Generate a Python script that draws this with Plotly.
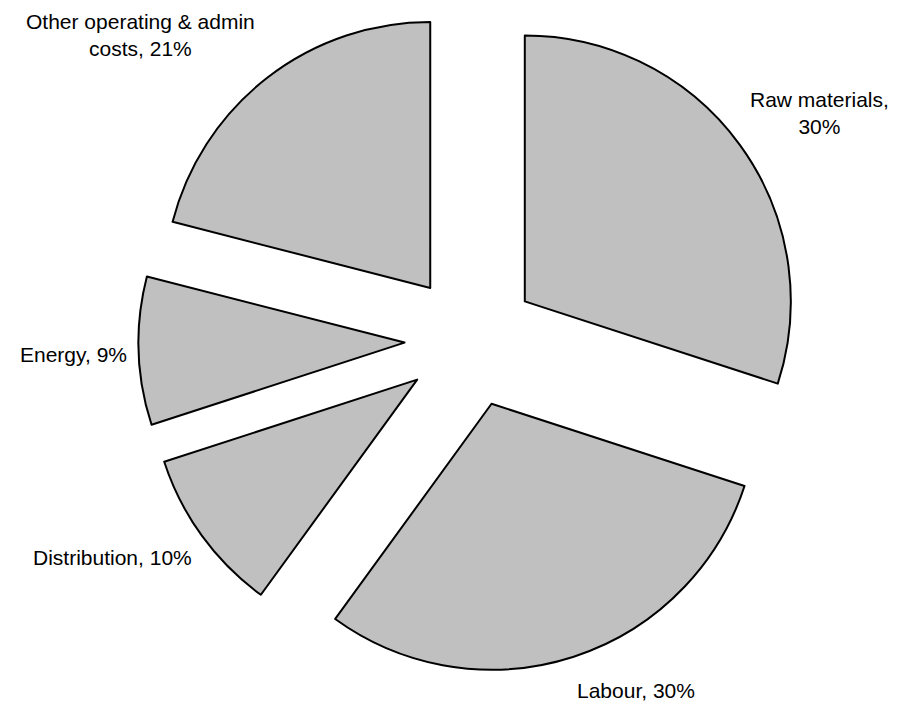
import plotly.graph_objects as go

# Cost breakdown (share of total, %)
categories = ["Raw materials", "Labour", "Distribution", "Energy",
              "Other operating & admin costs"]
shares = [30, 30, 10, 9, 21]
label_formats = [
    "Raw materials,<br>{}%",
    "Labour, {}%",
    "Distribution, {}%",
    "Energy, {}%",
    "Other operating & admin<br>costs, {}%",
]

# Figure geometry (pixels)
W, H = 909, 701
M = dict(l=60, r=27, t=8, b=28)
PW, PH = W - M["l"] - M["r"], H - M["t"] - M["b"]

# Label anchor points (pixel centres of each label block)
label_pos_px = [(819, 113), (636, 690), (112, 557), (73, 354), (140, 35)]


def to_paper(px, py):
    return (px - M["l"]) / PW, 1 - (py - M["t"]) / PH


fig = go.Figure(
    go.Pie(
        labels=categories,
        values=shares,
        sort=False,
        direction="clockwise",
        rotation=0,
        pull=[0.25] * len(shares),
        marker=dict(colors=["#C0C0C0"] * len(shares),
                    line=dict(color="#000000", width=2)),
        textinfo="none",
        showlegend=False,
        hoverinfo="label+percent",
    )
)

for fmt, val, (px, py) in zip(label_formats, shares, label_pos_px):
    x, y = to_paper(px, py)
    fig.add_annotation(
        x=x, y=y, xref="paper", yref="paper",
        text=fmt.format(val),
        showarrow=False,
        xanchor="center", yanchor="middle", align="center",
        font=dict(family="Arial, Liberation Sans, sans-serif", size=21,
                  color="#000000"),
    )

fig.update_layout(
    width=W,
    height=H,
    margin=M,
    paper_bgcolor="white",
    plot_bgcolor="white",
)

fig.write_html("out.html")
